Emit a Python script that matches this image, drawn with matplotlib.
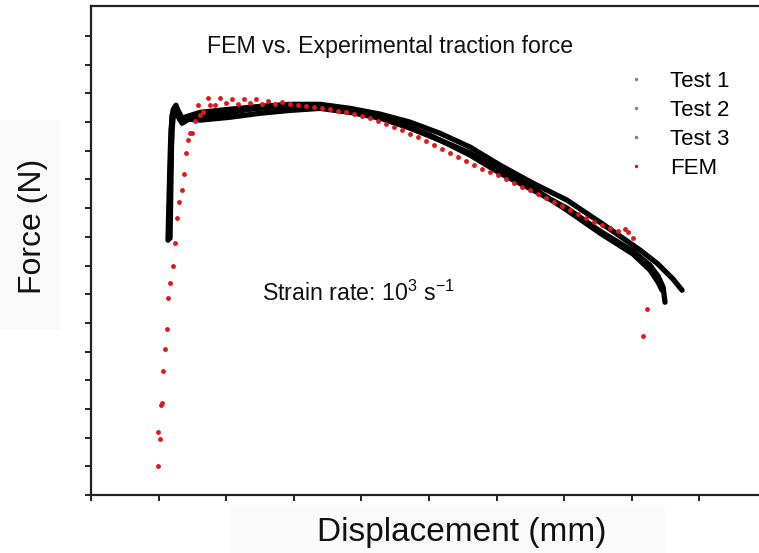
import matplotlib
matplotlib.use("Agg")
import matplotlib.pyplot as plt
from matplotlib.lines import Line2D
from matplotlib.patches import Rectangle

plt.rcParams['font.family'] = ['Liberation Sans', 'DejaVu Sans']
plt.rcParams['mathtext.fontset'] = 'custom'
plt.rcParams['mathtext.rm'] = 'Liberation Sans'
plt.rcParams['mathtext.default'] = 'regular'

# experimental curves (displacement, force) - arbitrary units, no tick labels in source
test1_x = [1.139, 1.154, 1.169, 1.183, 1.213, 1.257, 1.302, 1.346, 1.420, 1.538, 1.760, 2.056, 2.352,
           2.648, 2.944, 3.240, 3.536, 3.831, 4.127, 4.423, 4.719, 5.015, 5.311, 5.607, 6.050, 6.538,
           7.041, 7.530, 8.018, 8.269, 8.388, 8.462, 8.491]
test1_y = [8.885, 10.28, 11.67, 12.72, 13.41, 13.59, 13.24, 12.96, 13.07, 13.17, 13.20, 13.34, 13.45,
           13.52, 13.55, 13.55, 13.52, 13.41, 13.26, 13.07, 12.82, 12.54, 12.20, 11.85, 11.22, 10.63,
           10.00, 9.20, 8.50, 8.01, 7.63, 7.25, 6.72]

test2_x = [1.154, 1.169, 1.198, 1.228, 1.317, 1.464, 1.612, 2.056, 2.500, 2.944, 3.388, 3.831, 4.275,
           4.719, 5.163, 5.607, 6.050, 6.538, 7.041, 7.530, 8.018, 8.269, 8.388, 8.447]
test2_y = [9.06, 10.98, 12.72, 13.48, 13.07, 13.10, 13.07, 13.17, 13.31, 13.41, 13.48, 13.34, 13.14,
           12.79, 12.37, 11.92, 11.32, 10.70, 9.93, 9.13, 8.40, 7.84, 7.42, 7.14]

test3_x = [1.169, 1.183, 1.198, 1.272, 1.346, 1.612, 2.056, 2.500, 2.944, 3.388, 3.831, 4.275, 4.719,
           5.163, 5.607, 6.050, 6.538, 7.041, 7.530, 8.121, 8.373, 8.609, 8.743]
test3_y = [8.95, 10.98, 13.24, 13.48, 13.14, 13.34, 13.45, 13.55, 13.62, 13.62, 13.48, 13.28, 13.00,
           12.61, 12.13, 11.50, 10.87, 10.28, 9.51, 8.54, 8.08, 7.53, 7.14]

# FEM points
fem_x = [0.987, 1.021, 0.996, 1.031, 1.046, 1.070, 1.095, 1.120, 1.143, 1.169, 1.209, 1.243, 1.277,
         1.306, 1.342, 1.376, 1.410, 1.430, 1.464, 1.499,
         1.538, 1.583, 1.612, 1.657, 1.731, 1.760, 1.834, 1.908, 1.997, 2.086, 2.175, 2.263, 2.352,
         2.441, 2.530, 2.618, 2.722, 2.825, 2.944, 3.062, 3.180, 3.299, 3.417, 3.536, 3.654, 3.772,
         3.891, 4.009, 4.127, 4.246, 4.364, 4.482, 4.601, 4.719, 4.837, 4.956, 5.074, 5.192, 5.311,
         5.429, 5.547, 5.666, 5.784, 5.902, 6.021, 6.139, 6.257, 6.376, 6.494, 6.612, 6.731, 6.849,
         6.967, 7.086, 7.204, 7.322, 7.441, 7.559, 7.678, 7.796, 7.899, 7.944, 8.018, 8.225, 8.166]
fem_y = [1.010, 1.951, 2.195, 3.136, 3.206, 4.321, 5.087, 5.784, 6.864, 7.387, 7.979, 8.780, 9.652,
         10.209, 10.627, 11.185, 11.916, 12.369, 12.613, 12.613,
         13.03, 13.59, 13.24, 13.34, 13.83, 13.59, 13.59, 13.83, 13.66, 13.80, 13.62, 13.80, 13.66,
         13.80, 13.62, 13.73, 13.62, 13.69, 13.62, 13.59, 13.55, 13.52, 13.48, 13.45, 13.38, 13.34,
         13.28, 13.21, 13.14, 13.03, 12.93, 12.82, 12.72, 12.58, 12.47, 12.33, 12.20, 12.06, 11.92,
         11.78, 11.64, 11.50, 11.36, 11.25, 11.15, 11.01, 10.87, 10.73, 10.63, 10.49, 10.35, 10.21,
         10.07, 9.93, 9.79, 9.65, 9.51, 9.41, 9.30, 9.20, 9.27, 9.16, 8.95, 6.48, 5.54]

x_ticks = list(range(0, 10))
y_ticks = list(range(0, 17))

fig = plt.figure(figsize=(7.59, 5.53), dpi=100)
ax = fig.add_axes([0.1199, 0.1049, 0.9085, 0.8843])

# faint grey boxes behind the axis labels
fig.patches.append(Rectangle((230/759, 0), 435/759, 48/553, transform=fig.transFigure,
                             facecolor='#fafafa', edgecolor='none', zorder=0))
fig.patches.append(Rectangle((0, 1-330/553), 60/759, 210/553, transform=fig.transFigure,
                             facecolor='#fafafa', edgecolor='none', zorder=0))

for tx, ty in [(test1_x, test1_y), (test2_x, test2_y), (test3_x, test3_y)]:
    ax.plot(tx, ty, color='black', lw=3.8, solid_joinstyle='round', solid_capstyle='round')
ax.plot(fem_x, fem_y, ls='none', marker='o', ms=3.5, color='#e3161c', mec='none')

ax.set_xlim(0, 10.2)
ax.set_ylim(0, 17.05)
ax.set_xticks(x_ticks)
ax.set_yticks(y_ticks)
ax.set_xticklabels([])
ax.set_yticklabels([])
ax.tick_params(direction='out', length=4.5, width=1.4, color='#222222')
for s in ['left', 'bottom', 'top']:
    ax.spines[s].set_linewidth(1.6)
    ax.spines[s].set_color('#222222')
ax.spines['right'].set_visible(False)

handles = [Line2D([], [], ls='none', marker='o', ms=2.5, color='#808080', mec='none'),
           Line2D([], [], ls='none', marker='o', ms=2.5, color='#808080', mec='none'),
           Line2D([], [], ls='none', marker='o', ms=2.5, color='#808080', mec='none'),
           Line2D([], [], ls='none', marker='o', ms=2.5, color='#e3161c', mec='none')]
fig.legend(handles, ['Test 1', 'Test 2', 'Test 3', 'FEM'], loc='upper left',
           bbox_to_anchor=(612/759, 1-60/553), frameon=False, fontsize=16,
           handlelength=1.2, handletextpad=0.93, labelspacing=0.36, borderpad=0)

fig.text(390/759, 1-47/553, 'FEM vs. Experimental traction force', ha='center', va='center',
         fontsize=16.7, color='#111111')
fig.text(262/759, 1-293/553, 'Strain rate: 10$^3$ s$^{-1}$', ha='left', va='center',
         fontsize=16.7, color='#111111')
fig.text(462/759, 1-533/553, 'Displacement (mm)', ha='center', va='center', fontsize=24,
         color='#111111')
fig.text(33/759, 1-226/553, 'Force (N)', ha='center', va='center', rotation=90, fontsize=23,
         color='#111111')

fig.savefig('out.png', dpi=100)
